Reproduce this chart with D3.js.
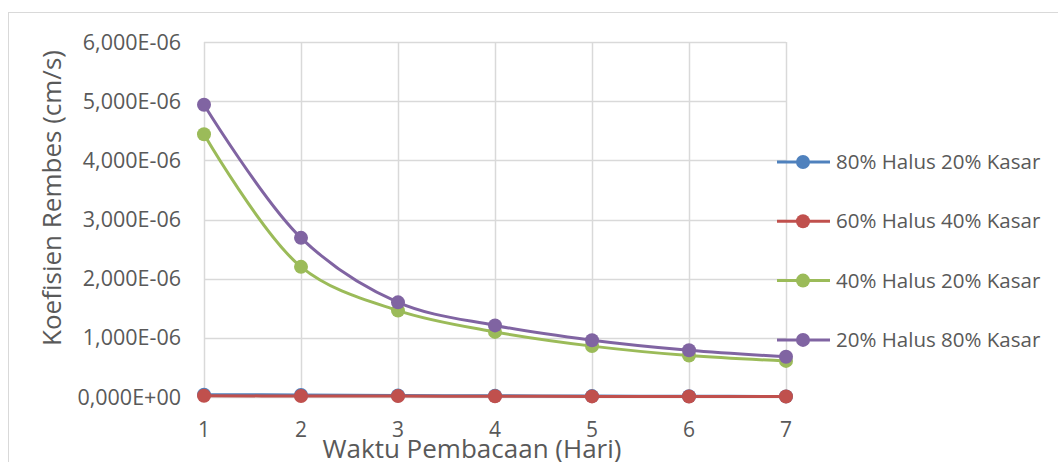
<!DOCTYPE html>
<html>
<head>
<meta charset="utf-8">
<script src="https://cdn.jsdelivr.net/npm/d3@7"></script>
<style>
  body { margin: 0; background: #fff; }
  text { font-family: "Open Sans", sans-serif; fill: #595959; }
</style>
</head>
<body>
<script>
// chart data
var days = [1, 2, 3, 4, 5, 6, 7];
var seriesNames = ["80% Halus 20% Kasar", "60% Halus 40% Kasar", "40% Halus 20% Kasar", "20% Halus 80% Kasar"];
var halus80 = [4.0e-8, 3.5e-8, 2.5e-8, 2.0e-8, 1.5e-8, 1.2e-8, 1.0e-8];
var halus60 = [2.0e-8, 1.8e-8, 1.5e-8, 1.2e-8, 1.0e-8, 0.9e-8, 0.8e-8];
var halus40 = [4.44e-6, 2.20e-6, 1.46e-6, 1.10e-6, 0.86e-6, 0.70e-6, 0.61e-6];
var halus20 = [4.94e-6, 2.69e-6, 1.60e-6, 1.21e-6, 0.96e-6, 0.79e-6, 0.68e-6];
var yTicks = [0, 1e-6, 2e-6, 3e-6, 4e-6, 5e-6, 6e-6];
var yTickLabels = ["0,000E+00", "1,000E-06", "2,000E-06", "3,000E-06", "4,000E-06", "5,000E-06", "6,000E-06"];
var colors = ["#4f81bd", "#c0504d", "#9bbb59", "#8064a2"];

var allSeries = [halus80, halus60, halus40, halus20];

var svgWidth = 1058;
var svgHeight = 462;

var margin = { top: 42, left: 204, right: 272, bottom: 65 };
var chartWidth = svgWidth - margin.left - margin.right;
var chartHeight = svgHeight - margin.top - margin.bottom;

var svg = d3.select("body")
  .append("svg")
  .attr("width", svgWidth)
  .attr("height", svgHeight);

// outer chart border
svg.append("rect")
  .attr("x", 8.5)
  .attr("y", 12.5)
  .attr("width", 1060)
  .attr("height", 470)
  .attr("fill", "none")
  .attr("stroke", "#d9d9d9");

var g = svg.append("g")
  .attr("transform", `translate(${margin.left}, ${margin.top})`);

var xScale = d3.scaleLinear()
  .domain([1, 7])
  .range([0, chartWidth]);

var yScale = d3.scaleLinear()
  .domain([0, 6e-6])
  .range([chartHeight, 0]);

// gridlines
g.selectAll(".hgrid")
  .data(yTicks)
  .enter()
  .append("line")
  .attr("x1", 0)
  .attr("x2", chartWidth)
  .attr("y1", d => Math.round(yScale(d)) + 0.5)
  .attr("y2", d => Math.round(yScale(d)) + 0.5)
  .attr("stroke", "#d9d9d9")
  .attr("stroke-width", 1.5);

g.selectAll(".vgrid")
  .data(days)
  .enter()
  .append("line")
  .attr("x1", d => Math.round(xScale(d)) + 0.5)
  .attr("x2", d => Math.round(xScale(d)) + 0.5)
  .attr("y1", 0)
  .attr("y2", chartHeight)
  .attr("stroke", "#d9d9d9")
  .attr("stroke-width", 1.5);

// tick labels
g.selectAll(".ylabel")
  .data(yTicks)
  .enter()
  .append("text")
  .attr("x", -23)
  .attr("y", d => yScale(d))
  .attr("dy", "0.35em")
  .attr("text-anchor", "end")
  .style("font-size", "21.5px")
  .text((d, i) => yTickLabels[i]);

g.selectAll(".xlabel")
  .data(days)
  .enter()
  .append("text")
  .attr("x", d => xScale(d))
  .attr("y", chartHeight + 40)
  .attr("text-anchor", "middle")
  .style("font-size", "21px")
  .text(d => d);

// axis titles
svg.append("text")
  .attr("transform", "translate(61, 198) rotate(-90)")
  .attr("text-anchor", "middle")
  .style("font-size", "26px")
  .text("Koefisien Rembes (cm/s)");

svg.append("text")
  .attr("x", 472)
  .attr("y", 458)
  .attr("text-anchor", "middle")
  .style("font-size", "26px")
  .text("Waktu Pembacaan (Hari)");

// lines
var line = d3.line()
  .x((d, i) => xScale(days[i]))
  .y(d => yScale(d))
  .curve(d3.curveCatmullRom.alpha(0.5));

allSeries.forEach(function(values, s) {
  g.append("path")
    .datum(values)
    .attr("fill", "none")
    .attr("stroke", colors[s])
    .attr("stroke-width", 3)
    .attr("d", line);

  g.selectAll(".pt" + s)
    .data(values)
    .enter()
    .append("circle")
    .attr("cx", (d, i) => xScale(days[i]))
    .attr("cy", d => yScale(d))
    .attr("r", 7)
    .attr("fill", colors[s]);
});

// legend
var legend = svg.selectAll(".legend")
  .data(seriesNames)
  .enter()
  .append("g")
  .attr("transform", (d, i) => `translate(777, ${162 + i * 59.3})`);

legend.append("line")
  .attr("x1", 0)
  .attr("x2", 53)
  .attr("stroke", (d, i) => colors[i])
  .attr("stroke-width", 3);

legend.append("circle")
  .attr("cx", 26)
  .attr("r", 7)
  .attr("fill", (d, i) => colors[i]);

legend.append("text")
  .attr("x", 59)
  .attr("dy", "0.35em")
  .style("font-size", "20.5px")
  .text(d => d);
</script>
</body>
</html>
